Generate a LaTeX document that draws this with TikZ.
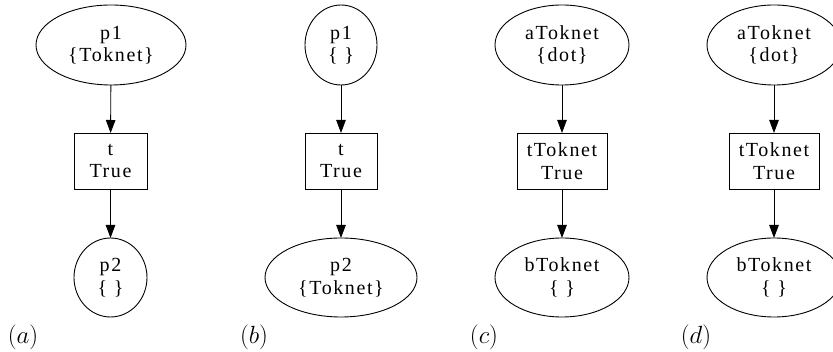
\documentclass[tikz,border=0pt]{standalone}
\usepackage{fontspec}
\setmainfont{Liberation Serif}[LetterSpace=8]
\usetikzlibrary{arrows.meta,shapes.geometric}
\tikzset{
  lbl/.style={font=\fontsize{20}{22.5}\selectfont, align=center, inner sep=0pt, outer sep=0pt},
  place/.style={lbl, ellipse, draw, line width=0.9pt},
  trans/.style={lbl, rectangle, draw, line width=0.9pt},
  arc/.style={line width=0.9pt, -{Triangle[length=13pt,width=9.5pt]}},
  sub/.style={font=\fontsize{24.88}{28}\selectfont, inner sep=0pt}
}
\begin{document}
\begin{tikzpicture}[x=1pt,y=-1pt]
\useasboundingbox (0,0) rectangle (833,352);
\clip (0,0) rectangle (833,352);
% (a)
\node[place, minimum width=150pt, minimum height=80pt] (pa1) at (111,45) {p1\\\{Toknet\}};
\node[trans, minimum width=73pt, minimum height=56pt] (ta) at (110.5,161) {t\\True};
\node[place, minimum width=73pt, minimum height=79pt] (pa2) at (110.5,277.5) {p2\\\{ \}};
\draw[arc] (pa1) -- (ta);
\draw[arc] (ta) -- (pa2);
\node[sub] (la) at (23,337) {$(a)$};
% (b)
\node[place, minimum width=72pt, minimum height=80pt] (pb1) at (341,45) {p1\\\{ \}};
\node[trans, minimum width=72pt, minimum height=56pt] (tb) at (341,161) {t\\True};
\node[place, minimum width=152pt, minimum height=79pt] (pb2) at (341,277.5) {p2\\\{Toknet\}};
\draw[arc] (pb1) -- (tb);
\draw[arc] (tb) -- (pb2);
\node[sub] (lb) at (254,337) {$(b)$};
% (c)
\node[place, minimum width=134pt, minimum height=80pt] (pc1) at (562,45) {aToknet\\\{dot\}};
\node[trans, minimum width=90pt, minimum height=56pt] (tc) at (562,161) {tToknet\\True};
\node[place, minimum width=134pt, minimum height=79pt] (pc2) at (562,277.5) {bToknet\\\{ \}};
\draw[arc] (pc1) -- (tc);
\draw[arc] (tc) -- (pc2);
\node[sub] (lc) at (484,337) {$(c)$};
% (d)
\node[place, minimum width=134pt, minimum height=80pt] (pd1) at (774,45) {aToknet\\\{dot\}};
\node[trans, minimum width=90pt, minimum height=56pt] (td) at (774,161) {tToknet\\True};
\node[place, minimum width=134pt, minimum height=79pt] (pd2) at (774,277.5) {bToknet\\\{ \}};
\draw[arc] (pd1) -- (td);
\draw[arc] (td) -- (pd2);
\node[sub] (ld) at (696,337) {$(d)$};
\end{tikzpicture}
\end{document}
